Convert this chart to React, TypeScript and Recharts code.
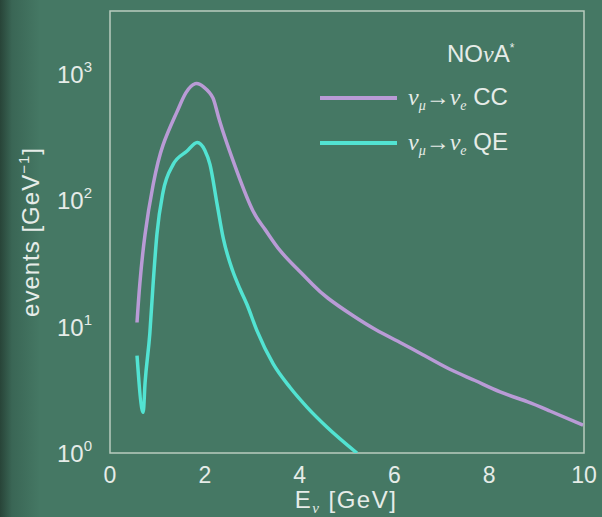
import { Line, LineChart, ReferenceArea, XAxis, YAxis } from "recharts";

// E_nu [GeV] and events [GeV^-1]
const CC_E = [0.57, 0.63, 0.74, 0.91, 1.12, 1.41, 1.6, 1.8, 1.98, 2.17, 2.32, 2.68, 3.02, 3.27, 3.59, 4.0, 4.28, 4.6, 5.13, 5.6, 6.12, 6.6, 7.17, 7.7, 8.23, 8.8, 9.28, 9.98];
const CC_N = [10.8, 22, 54, 133, 275, 500, 710, 840, 790, 650, 417, 169, 82, 59, 40, 27.5, 21.5, 16.8, 12.2, 9.5, 7.5, 6.0, 4.6, 3.75, 3.05, 2.55, 2.15, 1.66];

const QE_E = [0.57, 0.7, 0.74, 0.84, 0.91, 0.99, 1.12, 1.33, 1.62, 1.84, 2.0, 2.11, 2.26, 2.39, 2.59, 2.74, 2.89, 3.1, 3.44, 3.8, 4.16, 4.58, 5.21];
const QE_N = [5.9, 2.1, 3.6, 8.8, 22, 54, 117, 192, 245, 288, 250, 192, 93, 50, 27.6, 20, 15, 9.3, 5.1, 3.3, 2.3, 1.6, 1.0];

const X_TICKS = [0, 2, 4, 6, 8, 10];
const Y_TICKS = [1, 10, 100, 1000];
const Y_EXP = ["0", "1", "2", "3"];

const ccData = CC_E.map((e, i) => ({ e, n: CC_N[i] }));
const qeData = QE_E.map((e, i) => ({ e, n: QE_N[i] }));

const BG = "#457864";
const FG = "#e6ece8";
const FRAME = "#b9cbbf";
const CC_COLOR = "#b99bd6";
const QE_COLOR = "#52e3d2";
const FONT = "'Liberation Sans', Arial, sans-serif";
const SERIF = "'Liberation Serif', serif";

function YTick({ x, y, payload }: any) {
  const i = Y_TICKS.indexOf(payload.value);
  return (
    <text x={x - 10} y={y + 9} textAnchor="end" fill={FG} fontSize={24} fontFamily={FONT}>
      10
      <tspan dy={-11} fontSize={15}>
        {Y_EXP[i]}
      </tspan>
    </text>
  );
}

function Nu({ sub }: { sub: string }) {
  return (
    <>
      <tspan fontFamily={SERIF} fontStyle="italic">ν</tspan>
      <tspan fontSize={14} dy={5} fontFamily={SERIF} fontStyle="italic">
        {sub}
      </tspan>
    </>
  );
}

export default function App() {
  return (
    <div
      style={{
        position: "absolute",
        top: 0,
        left: 0,
        width: 602,
        height: 517,
        background: `linear-gradient(to right, #284438 0px, #3a6655 12px, ${BG} 40px)`,
        overflow: "hidden",
      }}
    >
      <LineChart width={602} height={517} margin={{ top: 11, right: 18, bottom: 0, left: 0 }}>
        <XAxis
          type="number"
          dataKey="e"
          domain={[0, 10]}
          ticks={X_TICKS}
          allowDataOverflow
          axisLine={false}
          tickLine={false}
          tick={{ fill: FG, fontSize: 23, fontFamily: FONT, dy: 6 }}
          height={64}
        />
        <YAxis
          scale="log"
          dataKey="n"
          domain={[1, 3162]}
          ticks={Y_TICKS}
          allowDataOverflow
          axisLine={false}
          tickLine={false}
          tick={<YTick />}
          width={110}
        />
        <ReferenceArea x1={0} x2={10} y1={1} y2={3162} fill="none" stroke={FRAME} strokeWidth={1.5} ifOverflow="visible" />
        <Line data={ccData} dataKey="n" type="natural" stroke={CC_COLOR} strokeWidth={3.5} dot={false} isAnimationActive={false} />
        <Line data={qeData} dataKey="n" type="monotone" stroke={QE_COLOR} strokeWidth={3.5} dot={false} isAnimationActive={false} />
      </LineChart>
      <svg width={602} height={517} style={{ position: "absolute", top: 0, left: 0, pointerEvents: "none" }}>
        <text x={33} y={232} transform="rotate(-90 33 232)" textAnchor="middle" dominantBaseline="middle" fill={FG} fontSize={24} letterSpacing={1} fontFamily={FONT}>
          events [GeV
          <tspan dy={-8} fontSize={15}>−1</tspan>
          <tspan dy={8}>]</tspan>
        </text>
        <text x={346} y={508} textAnchor="middle" fill={FG} fontSize={24} letterSpacing={1.5} fontFamily={FONT}>
          E
          <tspan dy={5} fontSize={15} fontFamily={SERIF} fontStyle="italic">ν</tspan>
          <tspan dy={-5}> [GeV]</tspan>
        </text>
        <text x={447} y={62} fill={FG} fontSize={24} fontFamily={FONT}>
          NO
          <tspan fontFamily={SERIF} fontStyle="italic">ν</tspan>
          A
          <tspan dy={-10} fontSize={12}>*</tspan>
        </text>
        <line x1={320} x2={397} y1={98} y2={98} stroke={CC_COLOR} strokeWidth={4} />
        <text x={408} y={105} fill={FG} fontSize={24} fontFamily={FONT}>
          <Nu sub="μ" />
          <tspan dy={-5}>→</tspan>
          <Nu sub="e" />
          <tspan dy={-5}> CC</tspan>
        </text>
        <line x1={320} x2={397} y1={143} y2={143} stroke={QE_COLOR} strokeWidth={4} />
        <text x={408} y={150} fill={FG} fontSize={24} fontFamily={FONT}>
          <Nu sub="μ" />
          <tspan dy={-5}>→</tspan>
          <Nu sub="e" />
          <tspan dy={-5}> QE</tspan>
        </text>
      </svg>
    </div>
  );
}
